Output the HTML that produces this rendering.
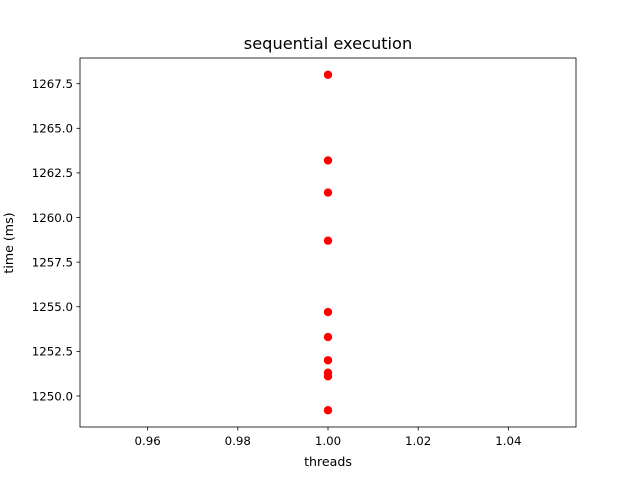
<!DOCTYPE html>
<html><head><meta charset="utf-8"><style>
body{margin:0;background:#fff;}
svg text{font-family:"DejaVu Sans","Liberation Sans",sans-serif;fill:#000;}
</style></head><body>
<svg width="640" height="480" xmlns="http://www.w3.org/2000/svg">
<rect width="640" height="480" fill="#fff"/>
<text x="328" y="49" font-size="16.2" text-anchor="middle">sequential execution</text>
<g id="axes"></g>
<text x="328" y="466" font-size="12.6" text-anchor="middle">threads</text>
<text transform="translate(13,243) rotate(-90)" font-size="12.6" text-anchor="middle">time (ms)</text>
</svg>
<script>
const xValues=[1,1,1,1,1,1,1,1,1,1];
const yValues=[1268.0,1263.2,1261.4,1258.7,1254.7,1253.3,1252.0,1251.3,1251.1,1249.2];
const xTicks=[0.96,0.98,1.00,1.02,1.04];
const yTicks=[1250.0,1252.5,1255.0,1257.5,1260.0,1262.5,1265.0,1267.5];
const L=80,R=576,T=58,B=427;
const ymin=Math.min(...yValues),ymax=Math.max(...yValues),yr=ymax-ymin;
const y0=ymin-0.05*yr,y1=ymax+0.05*yr;
const x0=0.945,x1=1.055;
const sx=v=>L+(v-x0)/(x1-x0)*(R-L);
const sy=v=>B-(v-y0)/(y1-y0)*(B-T);
const NS="http://www.w3.org/2000/svg";
const g=document.getElementById('axes');
function mk(t,a){const e=document.createElementNS(NS,t);for(const k in a)e.setAttribute(k,a[k]);g.appendChild(e);return e;}
xTicks.forEach(v=>{const x=sx(v);
const l=mk('line',{x1:x,x2:x,y1:B,y2:B+3.5,stroke:'#000','stroke-width':0.8});


const t=mk('text',{x:x,y:B+18,'font-size':11.8,'text-anchor':'middle'});t.textContent=v.toFixed(2);

});
yTicks.forEach(v=>{const y=sy(v);
const l=mk('line',{x1:L-3.5,x2:L,y1:y,y2:y,stroke:'#000','stroke-width':0.8});


const t=mk('text',{x:L-7,y:y+4.3,'font-size':11.8,'text-anchor':'end'});t.textContent=v.toFixed(1);

});
xValues.forEach((v,i)=>{const c=mk('circle',{cx:sx(v),cy:sy(yValues[i]),r:4.2,fill:'#ff0000'});

});
const f=mk('rect',{x:L,y:T,width:R-L,height:B-T,fill:'none',stroke:'#000','stroke-width':0.8});


</script>
</body></html>
